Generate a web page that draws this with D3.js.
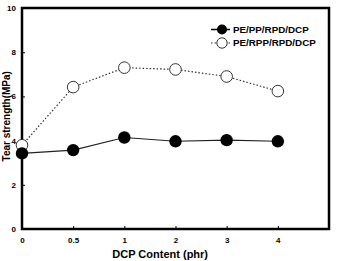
<!DOCTYPE html>
<html>
<head>
<meta charset="utf-8">
<script src="https://cdn.jsdelivr.net/npm/d3@7"></script>
<style>
  body { margin: 0; background: #fff; }
  svg { font-family: "Liberation Sans", Arial, sans-serif; font-weight: bold; }
</style>
</head>
<body>
<svg></svg>
<script>
const categories = ["0", "0.5", "1", "2", "3", "4"];
const yTicks = [0, 2, 4, 6, 8, 10];
const seriesNames = ["PE/PP/RPD/DCP", "PE/RPP/RPD/DCP"];
const filledValues = [3.42, 3.57, 4.14, 3.97, 4.02, 3.97];
const openValues = [3.79, 6.42, 7.30, 7.22, 6.90, 6.24];

const svgWidth = 337;
const svgHeight = 261;

const svg = d3.select("svg")
    .attr("width", svgWidth)
    .attr("height", svgHeight);

const margin = {top: 8, right: 8, bottom: 32, left: 22};
const width = svgWidth - margin.left - margin.right;
const height = svgHeight - margin.top - margin.bottom;

// categories sit at evenly spaced slots, one empty slot at the right
const x = d3.scaleLinear().domain([0, 6]).range([0, width]);
const y = d3.scaleLinear().domain([0, 10]).range([height, 0]);

const g = svg.append("g")
    .attr("transform", "translate(" + margin.left + "," + margin.top + ")");

// frame
g.append("rect")
    .attr("width", width)
    .attr("height", height)
    .attr("fill", "none")
    .attr("stroke", "#000")
    .attr("stroke-width", 2.5);

// x axis
const xAxis = g.append("g")
    .attr("transform", "translate(0," + height + ")")
    .call(d3.axisBottom(x)
        .tickValues(d3.range(categories.length))
        .tickFormat(i => categories[i])
        .tickSizeInner(-3).tickSizeOuter(0).tickPadding(8));
xAxis.select(".domain").remove();

// y axis
const yAxis = g.append("g")
    .call(d3.axisLeft(y)
        .tickValues(yTicks)
        .tickSizeInner(-3).tickSizeOuter(0).tickPadding(6));
yAxis.select(".domain").remove();

svg.selectAll(".tick text")
    .attr("font-family", "Liberation Sans, Arial, sans-serif")
    .attr("font-weight", "bold")
    .attr("font-size", 8)
    .attr("fill", "#000");
svg.selectAll(".tick line").attr("stroke", "#000");

// axis titles
svg.append("text")
    .attr("x", margin.left + x(2.7))
    .attr("y", 257.5)
    .attr("text-anchor", "middle")
    .attr("font-size", 11)
    .text("DCP Content (phr)");

svg.append("text")
    .attr("transform", "translate(10," + (margin.top + y(5.1)) + ") rotate(-90)")
    .attr("text-anchor", "middle")
    .attr("font-size", 10)
    .text("Tear strength(MPa)");

const line = d3.line()
    .x((d, i) => x(i))
    .y(d => y(d));

// open series
g.append("path")
    .datum(openValues)
    .attr("d", line)
    .attr("fill", "none")
    .attr("stroke", "#333")
    .attr("stroke-width", 1.2)
    .attr("stroke-dasharray", "1.5,2");

// filled series
g.append("path")
    .datum(filledValues)
    .attr("d", line)
    .attr("fill", "none")
    .attr("stroke", "#222")
    .attr("stroke-width", 1.2);

g.selectAll(".open")
    .data(openValues)
    .enter()
    .append("circle")
    .attr("class", "open")
    .attr("cx", (d, i) => x(i))
    .attr("cy", d => y(d))
    .attr("r", 5.8)
    .attr("fill", "#fff")
    .attr("stroke", "#333")
    .attr("stroke-width", 1);

g.selectAll(".filled")
    .data(filledValues)
    .enter()
    .append("circle")
    .attr("class", "filled")
    .attr("cx", (d, i) => x(i))
    .attr("cy", d => y(d))
    .attr("r", 6.2)
    .attr("fill", "#000");

// legend
const legend = svg.append("g");
const rows = [
  {name: seriesNames[0], filled: true},
  {name: seriesNames[1], filled: false}
];
rows.forEach((r, i) => {
  const ly = 29.5 + i * 13.5;
  legend.append("line")
      .attr("x1", 211).attr("x2", 230)
      .attr("y1", ly).attr("y2", ly)
      .attr("stroke", r.filled ? "#000" : "#333")
      .attr("stroke-width", r.filled ? 1.5 : 1.2)
      .attr("stroke-dasharray", r.filled ? null : "1.5,2");
  legend.append("circle")
      .attr("cx", 222).attr("cy", ly)
      .attr("r", r.filled ? 5 : 5.2)
      .attr("fill", r.filled ? "#000" : "#fff")
      .attr("stroke", r.filled ? "none" : "#333");
  legend.append("text")
      .attr("x", 233)
      .attr("y", ly + 3.4)
      .attr("font-size", 9.8)
      .text(r.name);
});
</script>
</body>
</html>
